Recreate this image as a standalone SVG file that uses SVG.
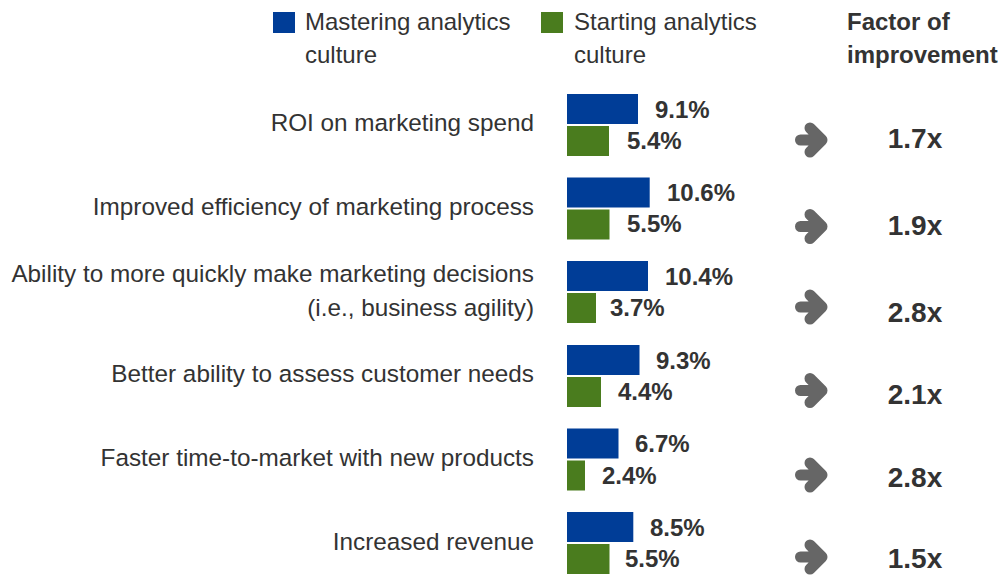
<svg xmlns="http://www.w3.org/2000/svg" width="1003" height="577" viewBox="0 0 1003 577">
<style>
text{font-family:"Liberation Sans",Arial,Helvetica,sans-serif;fill:#333;}
.lbl{font-size:24.3px;text-anchor:end;}
.leg{font-size:24px;}
.pct{font-size:24px;font-weight:bold;}
.fac{font-size:28px;font-weight:bold;text-anchor:middle;}
.hdr{font-size:24px;font-weight:bold;}
.b{fill:#003d97;}
.g{fill:#4a7c1e;}
.arr{fill:none;stroke:#666;stroke-width:11;stroke-linecap:round;stroke-linejoin:round;}
</style>
<defs>
<path id="arrow" class="arr" d="M-13.5 0 H7 M-4 -12 L8 0 L-4 12"/>
</defs>
<rect width="1003" height="577" fill="#fff"/>
<g id="legend">
<rect class="b" x="273" y="12" width="22" height="21"/>
<text class="leg" x="305" y="30">Mastering analytics</text>
<text class="leg" x="305" y="63">culture</text>
<rect class="g" x="541" y="12" width="22" height="21"/>
<text class="leg" x="574" y="30">Starting analytics</text>
<text class="leg" x="574" y="63">culture</text>
</g>
<g id="header">
<text class="hdr" x="847" y="30">Factor of</text>
<text class="hdr" x="847" y="63">improvement</text>
</g>
<g id="row1">
<text class="lbl" x="534" y="131">ROI on marketing spend</text>
<rect class="b" x="567" y="94" width="71" height="30"/>
<text class="pct" x="655" y="117.5">9.1%</text>
<rect class="g" x="567" y="126" width="42" height="30"/>
<text class="pct" x="627" y="149">5.4%</text>
</g>
<g id="row2">
<text class="lbl" x="534" y="215">Improved efficiency of marketing process</text>
<rect class="b" x="567" y="177.5" width="82.7" height="30"/>
<text class="pct" x="667" y="201">10.6%</text>
<rect class="g" x="567" y="209.5" width="42.5" height="30"/>
<text class="pct" x="627" y="232">5.5%</text>
</g>
<g id="row3">
<text class="lbl" x="534" y="282">Ability to more quickly make marketing decisions</text>
<text class="lbl" x="534" y="316">(i.e., business agility)</text>
<rect class="b" x="567" y="261" width="81" height="30"/>
<text class="pct" x="665" y="284.5">10.4%</text>
<rect class="g" x="567" y="293" width="29" height="30"/>
<text class="pct" x="610" y="316">3.7%</text>
</g>
<g id="row4">
<text class="lbl" x="534" y="382">Better ability to assess customer needs</text>
<rect class="b" x="567" y="345" width="72.5" height="30"/>
<text class="pct" x="656" y="368.5">9.3%</text>
<rect class="g" x="567" y="377" width="34" height="30"/>
<text class="pct" x="618" y="400">4.4%</text>
</g>
<g id="row5">
<text class="lbl" x="534" y="466">Faster time-to-market with new products</text>
<rect class="b" x="567" y="428.5" width="51.5" height="30"/>
<text class="pct" x="635" y="452">6.7%</text>
<rect class="g" x="567" y="460.5" width="18" height="30"/>
<text class="pct" x="602" y="483.5">2.4%</text>
</g>
<g id="row6">
<text class="lbl" x="534" y="550">Increased revenue</text>
<rect class="b" x="567" y="512" width="66.3" height="30"/>
<text class="pct" x="650" y="535.5">8.5%</text>
<rect class="g" x="567" y="544" width="42.5" height="30"/>
<text class="pct" x="625" y="567">5.5%</text>
</g>
<g id="connectors">
<use href="#arrow" x="814" y="140"/>
<use href="#arrow" x="814" y="226.5"/>
<use href="#arrow" x="814" y="307"/>
<use href="#arrow" x="814" y="390.5"/>
<use href="#arrow" x="814" y="475"/>
<use href="#arrow" x="814" y="557"/>
</g>
<g id="factors">
<text class="fac" x="915" y="148">1.7x</text>
<text class="fac" x="915" y="235">1.9x</text>
<text class="fac" x="915" y="321.5">2.8x</text>
<text class="fac" x="915" y="404">2.1x</text>
<text class="fac" x="915" y="487">2.8x</text>
<text class="fac" x="915" y="568">1.5x</text>
</g>
</svg>
